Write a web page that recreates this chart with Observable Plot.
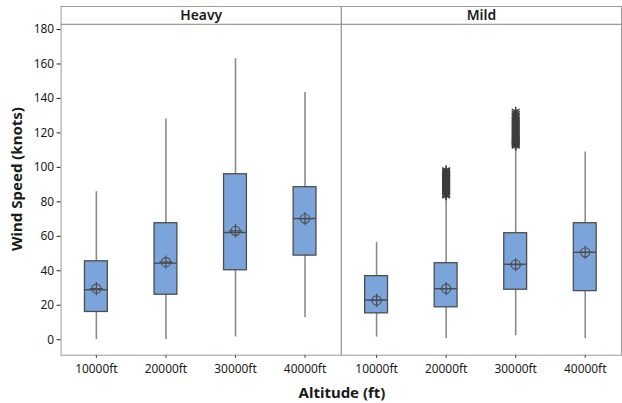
<!DOCTYPE html>
<html><head><meta charset="utf-8">
<script src="https://cdn.jsdelivr.net/npm/d3@7"></script>
<script src="https://cdn.jsdelivr.net/npm/@observablehq/plot@0.6"></script>
<style>
html,body{margin:0;padding:0;background:#fff;overflow:hidden;}
#wrap{position:relative;width:622px;height:403px;overflow:hidden;font-family:"Noto Sans",sans-serif;color:#1a1a1a;}
#wrap svg{position:absolute;left:0;top:0;}
.ytitle{position:absolute;left:16px;top:179px;transform:translate(-50%,-50%) rotate(-90deg);font-weight:700;font-size:15px;white-space:nowrap;}
.xtitle{position:absolute;left:342px;top:392px;transform:translate(-50%,-50%);font-weight:700;font-size:15px;white-space:nowrap;}
[aria-label$="axis tick"]{stroke:#8f8f8f;}
</style>
</head><body>
<div id="wrap">
  <div class="ytitle">Wind Speed (knots)</div>
  <div class="xtitle">Altitude (ft)</div>
</div>
<script>
const groups = ["Heavy", "Mild"];
const altitudes = ["10000ft", "20000ft", "30000ft", "40000ft"];
const yTicks = [0, 20, 40, 60, 80, 100, 120, 140, 160, 180];

// Heavy
const heavyWhiskerLow  = [0, 0, 1.5, 12.9];
const heavyQ1          = [16.1, 26.1, 40.3, 48.8];
const heavyMedian      = [29, 44.4, 62.2, 70.3];
const heavyMean        = [29.6, 45, 63.2, 70.3];
const heavyQ3          = [45.5, 67.6, 96, 88.5];
const heavyWhiskerHigh = [85.9, 128.1, 163, 143.5];
// Mild
const mildWhiskerLow   = [1.5, 0.7, 2.3, 0.7];
const mildQ1           = [15.3, 18.8, 29, 28.2];
const mildMedian       = [23, 29.6, 43.8, 50.7];
const mildMean         = [22.8, 29.6, 43.6, 50.7];
const mildQ3           = [36.9, 44.4, 61.8, 67.6];
const mildWhiskerHigh  = [56.5, 82, 111, 108.9];

// Outliers (Mild)
const mild20000Outliers = [83.5, 84.2, 85.1, 85.9, 86.6, 87.4, 88.3, 89.0, 89.8, 90.7, 91.5, 92.2, 93.1, 93.9, 94.6, 95.5, 96.3, 97.0, 97.8, 98.6];
const mild30000Outliers = [112.4, 113.0, 113.6, 114.2, 114.9, 115.5, 116.3, 117.1, 118.0, 118.8, 119.7, 120.6, 121.5, 122.4, 123.3, 124.2, 125.1, 126.0, 127.0, 128.0, 129.1, 130.2, 131.3, 132.5];

const stats = [];
altitudes.forEach((a, i) => {
  stats.push({group: "Heavy", alt: a, lo: heavyWhiskerLow[i], q1: heavyQ1[i], med: heavyMedian[i], mean: heavyMean[i], q3: heavyQ3[i], hi: heavyWhiskerHigh[i]});
});
altitudes.forEach((a, i) => {
  stats.push({group: "Mild", alt: a, lo: mildWhiskerLow[i], q1: mildQ1[i], med: mildMedian[i], mean: mildMean[i], q3: mildQ3[i], hi: mildWhiskerHigh[i]});
});
const outliers = [
  ...mild20000Outliers.map(v => ({group: "Mild", alt: "20000ft", v})),
  ...mild30000Outliers.map(v => ({group: "Mild", alt: "30000ft", v}))
];

const W = 626, ML = 60, MR = 1;
const boxFill = "#7ba4da", dark = "#4d4d4d", whisk = "#8a8a8a";

const main = Plot.plot({
  width: W, height: 403,
  marginTop: 24, marginBottom: 46, marginLeft: ML, marginRight: MR,
  style: {fontFamily: '"Noto Sans", sans-serif', fontSize: "12px", color: "#1a1a1a", background: "transparent", overflow: "visible"},
  fx: {domain: groups, padding: 0, axis: null},
  x: {domain: altitudes, paddingInner: 0.67, paddingOuter: 0.335, label: null, tickSize: 3, tickPadding: 6},
  y: {domain: [-9, 183], ticks: yTicks, tickSize: 4, tickPadding: 3, label: null},
  marks: [
    Plot.ruleX(stats, {fx: "group", x: "alt", y1: "lo", y2: "hi", stroke: whisk, strokeWidth: 1.6}),
    Plot.barY(stats, {fx: "group", x: "alt", y1: "q1", y2: "q3", fill: boxFill, stroke: dark, strokeWidth: 1.3}),
    Plot.tickY(stats, {fx: "group", x: "alt", y: "med", stroke: dark, strokeWidth: 1.4}),
    Plot.dot(stats, {fx: "group", x: "alt", y: "mean", r: 4.6, stroke: dark, fill: "none", strokeWidth: 1.2}),
    Plot.dot(stats, {fx: "group", x: "alt", y: "mean", symbol: "plus", r: 4.4, stroke: dark, strokeWidth: 1.2}),
    Plot.dot(outliers, {fx: "group", x: "alt", y: "v", symbol: "asterisk", r: 4.3, stroke: "#3c3c3c", strokeWidth: 1.5}),
    Plot.frame({stroke: "#9a9a9a"})
  ]
});

const header = Plot.plot({
  width: W, height: 24,
  marginTop: 6, marginBottom: 0, marginLeft: ML, marginRight: MR,
  style: {fontFamily: '"Noto Sans", sans-serif', fontSize: "14px", color: "#1a1a1a", background: "transparent", overflow: "visible"},
  fx: {domain: groups, padding: 0, axis: null},
  marks: [
    Plot.frame({stroke: "#9a9a9a"}),
    Plot.text(groups, {fx: d => d, text: d => d, frameAnchor: "middle", fontSize: 14, fontWeight: 600, fill: "#1a1a1a"})
  ]
});

const wrap = document.getElementById("wrap");
wrap.insertBefore(main, wrap.firstChild);
wrap.insertBefore(header, main.nextSibling);
</script>
</body></html>
